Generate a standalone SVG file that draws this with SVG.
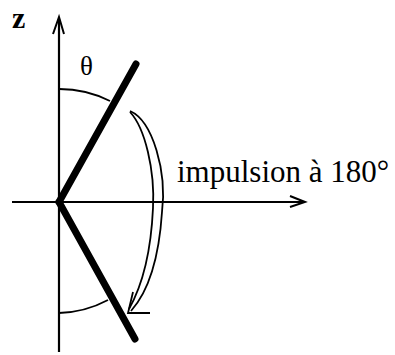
<svg xmlns="http://www.w3.org/2000/svg" width="395" height="355" viewBox="0 0 395 355">
<style>
.ax{stroke:#000;stroke-width:2.2;fill:none}
.rod{stroke:#000;stroke-width:7;stroke-linecap:round;fill:none}
.thin{stroke:#000;stroke-width:1.8;fill:none}
.t{font-family:"Liberation Serif","Times New Roman",serif;fill:#000}
</style>
<rect width="395" height="355" fill="#fff"/>
<g id="connectors">
<line class="ax" x1="59" y1="352" x2="59" y2="19"/>
<path d="M53,34 L59,17 L64,34" stroke="#000" stroke-width="2" fill="none"/>
<line class="ax" x1="12" y1="202" x2="303" y2="202"/>
<path d="M290,196 L305,202 L290,207" stroke="#000" stroke-width="2" fill="none"/>
</g>
<g id="rod-up"><line class="rod" x1="59" y1="202" x2="136" y2="64"/></g>
<g id="rod-down"><line class="rod" x1="59" y1="202" x2="135" y2="339"/></g>
<g id="arc-up"><path class="thin" d="M59,89 A113,113 0 0 1 110,101"/></g>
<g id="arc-down"><path class="thin" d="M59,313 A111,111 0 0 0 108,300"/></g>
<g id="flip-arrow">
<path class="thin" d="M130,111 C153,121 167,172 162,212 C159,258 148,292 131,311"/>
<path class="thin" d="M130,112 C145,128 155,170 153,208 C151,252 142,286 129,309"/>
<path class="thin" d="M133,292 L128,313 L150,313"/>
</g>
<g id="labels">
<text class="t" x="12" y="28" font-size="30" font-weight="bold">z</text>
<text class="t" x="80" y="75" font-size="27">θ</text>
<text class="t" x="177" y="182" font-size="31">impulsion à 180°</text>
</g>
</svg>
